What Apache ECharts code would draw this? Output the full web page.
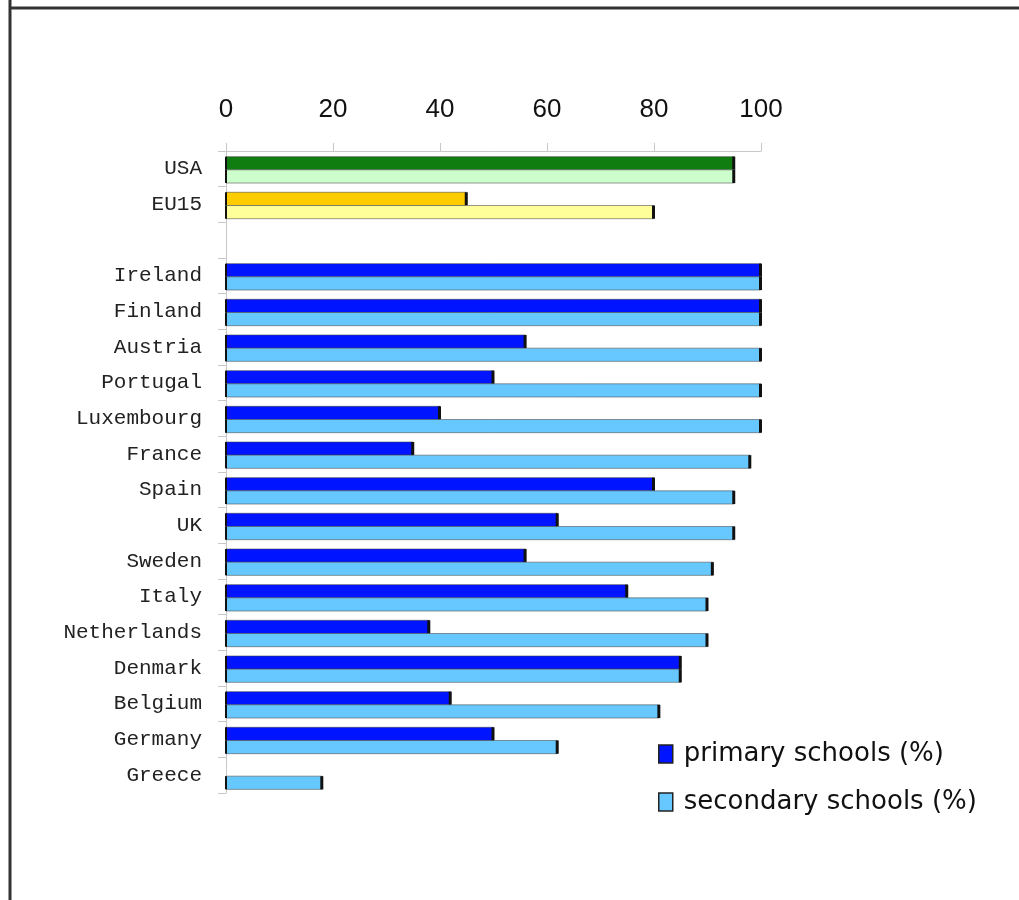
<!DOCTYPE html>
<html><head><meta charset="utf-8">
<script src="https://cdn.jsdelivr.net/npm/echarts@6/dist/echarts.min.js"></script>
<style>html,body{margin:0;padding:0;background:#fff}#c{width:1019px;height:900px}</style>
</head><body><div id="c"></div>
<script>
const categories = ['USA','EU15','','Ireland','Finland','Austria','Portugal','Luxembourg','France','Spain','UK','Sweden','Italy','Netherlands','Denmark','Belgium','Germany','Greece'];
const primary   = [95, 45, null, 100, 100, 56, 50, 40, 35, 80, 62, 56, 75, 38, 85, 42, 50, null];
const secondary = [95, 80, null, 100, 100, 100, 100, 100, 98, 95, 95, 91, 90, 90, 85, 81, 62, 18];
const xTicks = [0, 20, 40, 60, 80, 100];
const seriesNames = ['primary schools (%)', 'secondary schools (%)'];

const primaryColor = {USA:'#0f7d0f', EU15:'#ffcc00'};
const secondaryColor = {USA:'#ccffcc', EU15:'#ffff99'};
const PRIM = '#0014ff', SEC = '#66c8ff';

function makeRender(which){
  return function(params, api){
    const v = api.value(0), ci = api.value(1);
    if (v == null || isNaN(v)) return;
    const name = categories[ci];
    const c = api.coord([v, ci]);
    const c0 = api.coord([0, ci]);
    const band = api.size([0, 1])[1];
    const h = band * 0.37;
    const y = which === 0 ? c[1] - h + 1 : c[1] + 1;
    const col = which === 0 ? (primaryColor[name] || PRIM) : (secondaryColor[name] || SEC);
    return {type:'group', children:[
      {type:'rect', shape:{x:c0[0], y:y, width:c[0]-c0[0], height:h},
       style:{fill:col, stroke:'rgba(70,70,70,0.55)', lineWidth:1}},
      {type:'rect', shape:{x:c[0]-2, y:y, width:3, height:h}, style:{fill:'#111'}},
      {type:'rect', shape:{x:c0[0]-1, y:y, width:2, height:h}, style:{fill:'#111'}}
    ]};
  };
}

const chart = echarts.init(document.getElementById('c'));
chart.setOption({
  animation:false,
  backgroundColor:'#fff',
  graphic:[
    {type:'line', shape:{x1:10, y1:0, x2:10, y2:900}, style:{stroke:'#333', lineWidth:3}},
    {type:'line', shape:{x1:9, y1:8, x2:1019, y2:8}, style:{stroke:'#333', lineWidth:3}}
  ],
  grid:{left:226, right:258, top:151, bottom:107},
  xAxis:{type:'value', position:'top', min:0, max:100, interval:20,
    axisLine:{show:true, lineStyle:{color:'#c8c8c8'}},
    axisTick:{show:true, length:8, lineStyle:{color:'#c8c8c8'}},
    splitLine:{show:false},
    axisLabel:{margin:28, fontFamily:'Liberation Sans', fontSize:26, color:'#111',
      formatter:v => xTicks.includes(v) ? String(v) : ''}},
  yAxis:{type:'category', inverse:true, data:categories,
    axisLine:{show:true, lineStyle:{color:'#c8c8c8'}},
    axisTick:{show:true, length:8, alignWithLabel:false, lineStyle:{color:'#c8c8c8'}},
    axisLabel:{margin:24, fontFamily:'Liberation Mono', fontSize:21, color:'#222'}},
  legend:{orient:'vertical', left:653, top:736, itemWidth:14, itemHeight:18, itemGap:22,
    icon:'rect', data:seriesNames,
    itemStyle:{borderColor:'#222', borderWidth:1.5},
    textStyle:{fontFamily:'DejaVu Sans', fontSize:26, color:'#111', padding:[0,0,0,6]}},
  series:[
    {name:seriesNames[0], type:'custom', renderItem:makeRender(0), itemStyle:{color:PRIM},
     encode:{x:0, y:1}, data:primary.map((v,i)=>[v==null?'-':v, i])},
    {name:seriesNames[1], type:'custom', renderItem:makeRender(1), itemStyle:{color:SEC},
     encode:{x:0, y:1}, data:secondary.map((v,i)=>[v==null?'-':v, i])}
  ]
});
</script></body></html>
